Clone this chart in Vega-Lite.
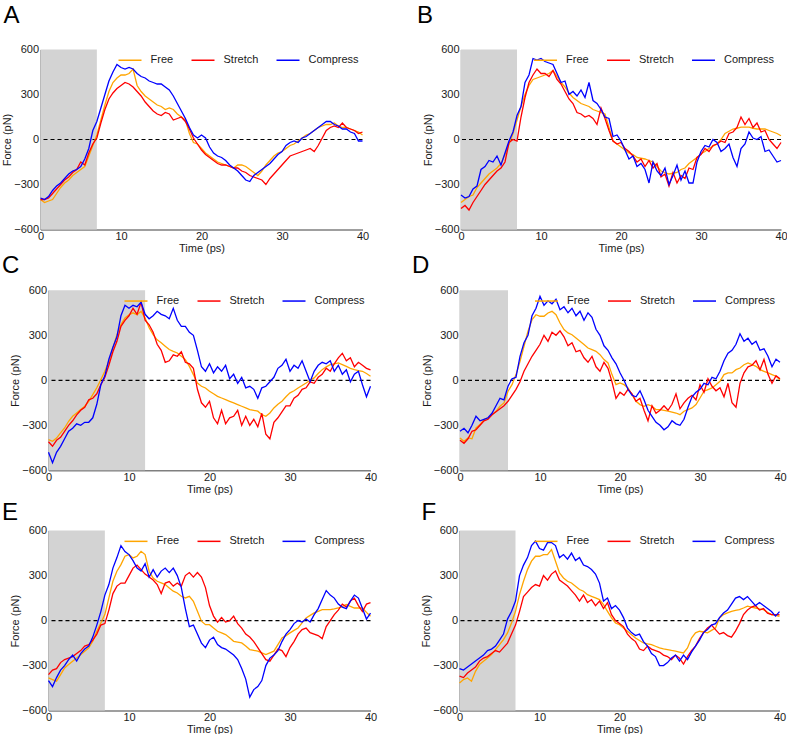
{
"$schema": "https://vega.github.io/schema/vega-lite/v6.json",
"autosize": {"type": "pad"},
"padding": {"left": 0, "top": 3.5, "right": 0, "bottom": 0},
"datasets": {
"shade": [
{"p":"A","start":0,"end":7},{"p":"B","start":0,"end":7},{"p":"C","start":0,"end":12},
{"p":"D","start":0,"end":6},{"p":"E","start":0,"end":7},{"p":"F","start":0,"end":7}
],
"lines": [
{"p":"A","t":0,"Free":-400,"Stretch":-400,"Compress":-390},
{"p":"A","t":0.5,"Free":-420,"Stretch":-400,"Compress":-400},
{"p":"A","t":1,"Free":-410,"Stretch":-390,"Compress":-380},
{"p":"A","t":1.5,"Free":-400,"Stretch":-360,"Compress":-340},
{"p":"A","t":2,"Free":-360,"Stretch":-330,"Compress":-310},
{"p":"A","t":2.5,"Free":-320,"Stretch":-300,"Compress":-290},
{"p":"A","t":3,"Free":-290,"Stretch":-270,"Compress":-260},
{"p":"A","t":3.5,"Free":-270,"Stretch":-250,"Compress":-230},
{"p":"A","t":4,"Free":-240,"Stretch":-220,"Compress":-210},
{"p":"A","t":4.5,"Free":-220,"Stretch":-200,"Compress":-200},
{"p":"A","t":5,"Free":-200,"Stretch":-150,"Compress":-180},
{"p":"A","t":5.5,"Free":-180,"Stretch":-170,"Compress":-130},
{"p":"A","t":6,"Free":-110,"Stretch":-90,"Compress":-60},
{"p":"A","t":6.5,"Free":-40,"Stretch":-30,"Compress":60},
{"p":"A","t":7,"Free":30,"Stretch":10,"Compress":120},
{"p":"A","t":7.5,"Free":130,"Stretch":110,"Compress":210},
{"p":"A","t":8,"Free":230,"Stretch":200,"Compress":300},
{"p":"A","t":8.5,"Free":320,"Stretch":270,"Compress":390},
{"p":"A","t":9,"Free":380,"Stretch":310,"Compress":450},
{"p":"A","t":9.5,"Free":410,"Stretch":340,"Compress":500},
{"p":"A","t":10,"Free":430,"Stretch":360,"Compress":480},
{"p":"A","t":10.5,"Free":430,"Stretch":380,"Compress":470},
{"p":"A","t":11,"Free":440,"Stretch":370,"Compress":480},
{"p":"A","t":11.5,"Free":470,"Stretch":350,"Compress":470},
{"p":"A","t":12,"Free":360,"Stretch":320,"Compress":440},
{"p":"A","t":12.5,"Free":320,"Stretch":290,"Compress":420},
{"p":"A","t":13,"Free":290,"Stretch":250,"Compress":410},
{"p":"A","t":13.5,"Free":270,"Stretch":220,"Compress":390},
{"p":"A","t":14,"Free":250,"Stretch":190,"Compress":380},
{"p":"A","t":14.5,"Free":230,"Stretch":170,"Compress":370},
{"p":"A","t":15,"Free":220,"Stretch":160,"Compress":370},
{"p":"A","t":15.5,"Free":200,"Stretch":180,"Compress":350},
{"p":"A","t":16,"Free":210,"Stretch":170,"Compress":330},
{"p":"A","t":16.5,"Free":200,"Stretch":130,"Compress":290},
{"p":"A","t":17,"Free":170,"Stretch":140,"Compress":240},
{"p":"A","t":17.5,"Free":150,"Stretch":150,"Compress":190},
{"p":"A","t":18,"Free":130,"Stretch":120,"Compress":140},
{"p":"A","t":18.5,"Free":40,"Stretch":70,"Compress":80},
{"p":"A","t":19,"Free":-20,"Stretch":10,"Compress":30},
{"p":"A","t":19.5,"Free":-30,"Stretch":-30,"Compress":10},
{"p":"A","t":20,"Free":-60,"Stretch":-70,"Compress":30},
{"p":"A","t":20.5,"Free":-90,"Stretch":-100,"Compress":10},
{"p":"A","t":21,"Free":-110,"Stretch":-120,"Compress":-50},
{"p":"A","t":21.5,"Free":-130,"Stretch":-140,"Compress":-90},
{"p":"A","t":22,"Free":-150,"Stretch":-160,"Compress":-110},
{"p":"A","t":22.5,"Free":-160,"Stretch":-170,"Compress":-120},
{"p":"A","t":23,"Free":-170,"Stretch":-170,"Compress":-140},
{"p":"A","t":23.5,"Free":-180,"Stretch":-180,"Compress":-170},
{"p":"A","t":24,"Free":-190,"Stretch":-190,"Compress":-190},
{"p":"A","t":24.5,"Free":-170,"Stretch":-190,"Compress":-210},
{"p":"A","t":25,"Free":-170,"Stretch":-210,"Compress":-240},
{"p":"A","t":25.5,"Free":-180,"Stretch":-220,"Compress":-270},
{"p":"A","t":26,"Free":-200,"Stretch":-240,"Compress":-280},
{"p":"A","t":26.5,"Free":-220,"Stretch":-250,"Compress":-240},
{"p":"A","t":27,"Free":-240,"Stretch":-260,"Compress":-220},
{"p":"A","t":27.5,"Free":-210,"Stretch":-270,"Compress":-200},
{"p":"A","t":28,"Free":-170,"Stretch":-300,"Compress":-180},
{"p":"A","t":28.5,"Free":-140,"Stretch":-260,"Compress":-160},
{"p":"A","t":29,"Free":-110,"Stretch":-230,"Compress":-130},
{"p":"A","t":29.5,"Free":-90,"Stretch":-200,"Compress":-100},
{"p":"A","t":30,"Free":-80,"Stretch":-170,"Compress":-80},
{"p":"A","t":30.5,"Free":-60,"Stretch":-140,"Compress":-40},
{"p":"A","t":31,"Free":-40,"Stretch":-110,"Compress":-20},
{"p":"A","t":31.5,"Free":-30,"Stretch":-100,"Compress":-10},
{"p":"A","t":32,"Free":-10,"Stretch":-90,"Compress":-20},
{"p":"A","t":32.5,"Free":10,"Stretch":-80,"Compress":10},
{"p":"A","t":33,"Free":30,"Stretch":-70,"Compress":20},
{"p":"A","t":33.5,"Free":40,"Stretch":-60,"Compress":40},
{"p":"A","t":34,"Free":60,"Stretch":-80,"Compress":60},
{"p":"A","t":34.5,"Free":80,"Stretch":-40,"Compress":80},
{"p":"A","t":35,"Free":90,"Stretch":10,"Compress":100},
{"p":"A","t":35.5,"Free":100,"Stretch":60,"Compress":120},
{"p":"A","t":36,"Free":100,"Stretch":80,"Compress":120},
{"p":"A","t":36.5,"Free":110,"Stretch":90,"Compress":100},
{"p":"A","t":37,"Free":90,"Stretch":80,"Compress":90},
{"p":"A","t":37.5,"Free":80,"Stretch":110,"Compress":70},
{"p":"A","t":38,"Free":80,"Stretch":80,"Compress":70},
{"p":"A","t":38.5,"Free":70,"Stretch":70,"Compress":50},
{"p":"A","t":39,"Free":60,"Stretch":60,"Compress":40},
{"p":"A","t":39.5,"Free":50,"Stretch":40,"Compress":-10},
{"p":"A","t":40,"Free":30,"Stretch":50,"Compress":-10},
{"p":"B","t":0,"Free":-420,"Stretch":-460,"Compress":-370},
{"p":"B","t":0.5,"Free":-400,"Stretch":-440,"Compress":-390},
{"p":"B","t":1,"Free":-380,"Stretch":-470,"Compress":-380},
{"p":"B","t":1.5,"Free":-370,"Stretch":-420,"Compress":-330},
{"p":"B","t":2,"Free":-320,"Stretch":-380,"Compress":-310},
{"p":"B","t":2.5,"Free":-290,"Stretch":-340,"Compress":-200},
{"p":"B","t":3,"Free":-260,"Stretch":-300,"Compress":-180},
{"p":"B","t":3.5,"Free":-230,"Stretch":-270,"Compress":-140},
{"p":"B","t":4,"Free":-210,"Stretch":-240,"Compress":-150},
{"p":"B","t":4.5,"Free":-190,"Stretch":-210,"Compress":-110},
{"p":"B","t":5,"Free":-160,"Stretch":-190,"Compress":-170},
{"p":"B","t":5.5,"Free":-100,"Stretch":-150,"Compress":-90},
{"p":"B","t":6,"Free":-30,"Stretch":-20,"Compress":-10},
{"p":"B","t":6.5,"Free":40,"Stretch":0,"Compress":50},
{"p":"B","t":7,"Free":130,"Stretch":-10,"Compress":160},
{"p":"B","t":7.5,"Free":220,"Stretch":150,"Compress":220},
{"p":"B","t":8,"Free":300,"Stretch":280,"Compress":380},
{"p":"B","t":8.5,"Free":360,"Stretch":380,"Compress":430},
{"p":"B","t":9,"Free":400,"Stretch":430,"Compress":540},
{"p":"B","t":9.5,"Free":410,"Stretch":470,"Compress":530},
{"p":"B","t":10,"Free":420,"Stretch":440,"Compress":540},
{"p":"B","t":10.5,"Free":430,"Stretch":440,"Compress":520},
{"p":"B","t":11,"Free":440,"Stretch":420,"Compress":510},
{"p":"B","t":11.5,"Free":460,"Stretch":460,"Compress":500},
{"p":"B","t":12,"Free":420,"Stretch":400,"Compress":440},
{"p":"B","t":12.5,"Free":380,"Stretch":370,"Compress":380},
{"p":"B","t":13,"Free":350,"Stretch":320,"Compress":390},
{"p":"B","t":13.5,"Free":310,"Stretch":270,"Compress":300},
{"p":"B","t":14,"Free":280,"Stretch":240,"Compress":320},
{"p":"B","t":14.5,"Free":260,"Stretch":180,"Compress":290},
{"p":"B","t":15,"Free":240,"Stretch":170,"Compress":330},
{"p":"B","t":15.5,"Free":230,"Stretch":150,"Compress":280},
{"p":"B","t":16,"Free":220,"Stretch":160,"Compress":380},
{"p":"B","t":16.5,"Free":200,"Stretch":140,"Compress":260},
{"p":"B","t":17,"Free":190,"Stretch":100,"Compress":240},
{"p":"B","t":17.5,"Free":180,"Stretch":210,"Compress":200},
{"p":"B","t":18,"Free":170,"Stretch":140,"Compress":150},
{"p":"B","t":18.5,"Free":80,"Stretch":60,"Compress":140},
{"p":"B","t":19,"Free":-10,"Stretch":-10,"Compress":20},
{"p":"B","t":19.5,"Free":-30,"Stretch":-30,"Compress":30},
{"p":"B","t":20,"Free":-50,"Stretch":-20,"Compress":-10},
{"p":"B","t":20.5,"Free":-70,"Stretch":-60,"Compress":-70},
{"p":"B","t":21,"Free":-90,"Stretch":-80,"Compress":-130},
{"p":"B","t":21.5,"Free":-100,"Stretch":-110,"Compress":-110},
{"p":"B","t":22,"Free":-120,"Stretch":-150,"Compress":-180},
{"p":"B","t":22.5,"Free":-125,"Stretch":-130,"Compress":-160},
{"p":"B","t":23,"Free":-130,"Stretch":-180,"Compress":-200},
{"p":"B","t":23.5,"Free":-140,"Stretch":-140,"Compress":-290},
{"p":"B","t":24,"Free":-150,"Stretch":-190,"Compress":-150},
{"p":"B","t":24.5,"Free":-180,"Stretch":-160,"Compress":-210},
{"p":"B","t":25,"Free":-210,"Stretch":-250,"Compress":-240},
{"p":"B","t":25.5,"Free":-220,"Stretch":-230,"Compress":-190},
{"p":"B","t":26,"Free":-230,"Stretch":-310,"Compress":-300},
{"p":"B","t":26.5,"Free":-225,"Stretch":-220,"Compress":-240},
{"p":"B","t":27,"Free":-220,"Stretch":-290,"Compress":-170},
{"p":"B","t":27.5,"Free":-200,"Stretch":-240,"Compress":-270},
{"p":"B","t":28,"Free":-190,"Stretch":-260,"Compress":-210},
{"p":"B","t":28.5,"Free":-160,"Stretch":-190,"Compress":-290},
{"p":"B","t":29,"Free":-140,"Stretch":-200,"Compress":-290},
{"p":"B","t":29.5,"Free":-120,"Stretch":-120,"Compress":-150},
{"p":"B","t":30,"Free":-95,"Stretch":-100,"Compress":-80},
{"p":"B","t":30.5,"Free":-80,"Stretch":-60,"Compress":-40},
{"p":"B","t":31,"Free":-60,"Stretch":-80,"Compress":-50},
{"p":"B","t":31.5,"Free":-45,"Stretch":-40,"Compress":0},
{"p":"B","t":32,"Free":-30,"Stretch":-30,"Compress":-20},
{"p":"B","t":32.5,"Free":0,"Stretch":-10,"Compress":-80},
{"p":"B","t":33,"Free":40,"Stretch":-20,"Compress":-60},
{"p":"B","t":33.5,"Free":55,"Stretch":40,"Compress":-30},
{"p":"B","t":34,"Free":70,"Stretch":50,"Compress":-120},
{"p":"B","t":34.5,"Free":75,"Stretch":80,"Compress":-180},
{"p":"B","t":35,"Free":82,"Stretch":150,"Compress":-60},
{"p":"B","t":35.5,"Free":82,"Stretch":100,"Compress":-30},
{"p":"B","t":36,"Free":82,"Stretch":140,"Compress":50},
{"p":"B","t":36.5,"Free":75,"Stretch":80,"Compress":10},
{"p":"B","t":37,"Free":70,"Stretch":110,"Compress":0},
{"p":"B","t":37.5,"Free":70,"Stretch":50,"Compress":20},
{"p":"B","t":38,"Free":70,"Stretch":60,"Compress":-80},
{"p":"B","t":38.5,"Free":60,"Stretch":0,"Compress":-70},
{"p":"B","t":39,"Free":50,"Stretch":-30,"Compress":-110},
{"p":"B","t":39.5,"Free":40,"Stretch":-60,"Compress":-150},
{"p":"B","t":40,"Free":25,"Stretch":-20,"Compress":-140},
{"p":"C","t":0,"Free":-395,"Stretch":-410,"Compress":-480},
{"p":"C","t":0.5,"Free":-407,"Stretch":-440,"Compress":-550},
{"p":"C","t":1,"Free":-385,"Stretch":-400,"Compress":-480},
{"p":"C","t":1.5,"Free":-351,"Stretch":-380,"Compress":-440},
{"p":"C","t":2,"Free":-318,"Stretch":-340,"Compress":-390},
{"p":"C","t":2.5,"Free":-273,"Stretch":-300,"Compress":-340},
{"p":"C","t":3,"Free":-240,"Stretch":-270,"Compress":-320},
{"p":"C","t":3.5,"Free":-218,"Stretch":-230,"Compress":-290},
{"p":"C","t":4,"Free":-195,"Stretch":-200,"Compress":-300},
{"p":"C","t":4.5,"Free":-173,"Stretch":-180,"Compress":-280},
{"p":"C","t":5,"Free":-140,"Stretch":-130,"Compress":-280},
{"p":"C","t":5.5,"Free":-95,"Stretch":-120,"Compress":-250},
{"p":"C","t":6,"Free":-50,"Stretch":-90,"Compress":-160},
{"p":"C","t":6.5,"Free":4,"Stretch":-30,"Compress":-30},
{"p":"C","t":7,"Free":60,"Stretch":20,"Compress":30},
{"p":"C","t":7.5,"Free":127,"Stretch":100,"Compress":140},
{"p":"C","t":8,"Free":215,"Stretch":190,"Compress":220},
{"p":"C","t":8.5,"Free":304,"Stretch":260,"Compress":290},
{"p":"C","t":9,"Free":371,"Stretch":360,"Compress":430},
{"p":"C","t":9.5,"Free":415,"Stretch":400,"Compress":500},
{"p":"C","t":10,"Free":437,"Stretch":430,"Compress":480},
{"p":"C","t":10.5,"Free":450,"Stretch":480,"Compress":500},
{"p":"C","t":11,"Free":437,"Stretch":440,"Compress":490},
{"p":"C","t":11.5,"Free":460,"Stretch":520,"Compress":520},
{"p":"C","t":12,"Free":415,"Stretch":400,"Compress":440},
{"p":"C","t":12.5,"Free":350,"Stretch":370,"Compress":410},
{"p":"C","t":13,"Free":304,"Stretch":320,"Compress":430},
{"p":"C","t":13.5,"Free":270,"Stretch":240,"Compress":460},
{"p":"C","t":14,"Free":250,"Stretch":200,"Compress":440},
{"p":"C","t":14.5,"Free":227,"Stretch":120,"Compress":430},
{"p":"C","t":15,"Free":205,"Stretch":130,"Compress":410},
{"p":"C","t":15.5,"Free":193,"Stretch":170,"Compress":480},
{"p":"C","t":16,"Free":182,"Stretch":160,"Compress":400},
{"p":"C","t":16.5,"Free":160,"Stretch":190,"Compress":360},
{"p":"C","t":17,"Free":138,"Stretch":120,"Compress":360},
{"p":"C","t":17.5,"Free":93,"Stretch":110,"Compress":320},
{"p":"C","t":18,"Free":38,"Stretch":80,"Compress":300},
{"p":"C","t":18.5,"Free":-18,"Stretch":-60,"Compress":200},
{"p":"C","t":19,"Free":-40,"Stretch":-150,"Compress":90},
{"p":"C","t":19.5,"Free":-51,"Stretch":-180,"Compress":60},
{"p":"C","t":20,"Free":-73,"Stretch":-140,"Compress":110},
{"p":"C","t":20.5,"Free":-90,"Stretch":-250,"Compress":50},
{"p":"C","t":21,"Free":-107,"Stretch":-290,"Compress":90},
{"p":"C","t":21.5,"Free":-118,"Stretch":-200,"Compress":60},
{"p":"C","t":22,"Free":-129,"Stretch":-290,"Compress":100},
{"p":"C","t":22.5,"Free":-140,"Stretch":-250,"Compress":10},
{"p":"C","t":23,"Free":-151,"Stretch":-240,"Compress":40},
{"p":"C","t":23.5,"Free":-162,"Stretch":-200,"Compress":-20},
{"p":"C","t":24,"Free":-173,"Stretch":-300,"Compress":20},
{"p":"C","t":24.5,"Free":-184,"Stretch":-240,"Compress":-50},
{"p":"C","t":25,"Free":-195,"Stretch":-300,"Compress":-40},
{"p":"C","t":25.5,"Free":-200,"Stretch":-260,"Compress":-60},
{"p":"C","t":26,"Free":-206,"Stretch":-310,"Compress":-120},
{"p":"C","t":26.5,"Free":-229,"Stretch":-220,"Compress":-50},
{"p":"C","t":27,"Free":-240,"Stretch":-360,"Compress":-40},
{"p":"C","t":27.5,"Free":-218,"Stretch":-390,"Compress":-10},
{"p":"C","t":28,"Free":-184,"Stretch":-280,"Compress":20},
{"p":"C","t":28.5,"Free":-160,"Stretch":-250,"Compress":80},
{"p":"C","t":29,"Free":-140,"Stretch":-210,"Compress":100},
{"p":"C","t":29.5,"Free":-110,"Stretch":-170,"Compress":140},
{"p":"C","t":30,"Free":-84,"Stretch":-170,"Compress":60},
{"p":"C","t":30.5,"Free":-70,"Stretch":-120,"Compress":100},
{"p":"C","t":31,"Free":-51,"Stretch":-100,"Compress":80},
{"p":"C","t":31.5,"Free":-35,"Stretch":-60,"Compress":130},
{"p":"C","t":32,"Free":-18,"Stretch":-50,"Compress":60},
{"p":"C","t":32.5,"Free":0,"Stretch":-10,"Compress":-10},
{"p":"C","t":33,"Free":16,"Stretch":-20,"Compress":60},
{"p":"C","t":33.5,"Free":45,"Stretch":20,"Compress":100},
{"p":"C","t":34,"Free":71,"Stretch":40,"Compress":120},
{"p":"C","t":34.5,"Free":90,"Stretch":80,"Compress":110},
{"p":"C","t":35,"Free":104,"Stretch":60,"Compress":130},
{"p":"C","t":35.5,"Free":110,"Stretch":110,"Compress":60},
{"p":"C","t":36,"Free":116,"Stretch":150,"Compress":100},
{"p":"C","t":36.5,"Free":105,"Stretch":180,"Compress":40},
{"p":"C","t":37,"Free":93,"Stretch":130,"Compress":70},
{"p":"C","t":37.5,"Free":80,"Stretch":150,"Compress":-10},
{"p":"C","t":38,"Free":71,"Stretch":90,"Compress":40},
{"p":"C","t":38.5,"Free":65,"Stretch":120,"Compress":60},
{"p":"C","t":39,"Free":60,"Stretch":100,"Compress":-30},
{"p":"C","t":39.5,"Free":45,"Stretch":80,"Compress":-110},
{"p":"C","t":40,"Free":27,"Stretch":70,"Compress":-40},
{"p":"D","t":0,"Free":-384,"Stretch":-400,"Compress":-340},
{"p":"D","t":0.5,"Free":-407,"Stretch":-420,"Compress":-320},
{"p":"D","t":1,"Free":-384,"Stretch":-390,"Compress":-350},
{"p":"D","t":1.5,"Free":-390,"Stretch":-340,"Compress":-300},
{"p":"D","t":2,"Free":-318,"Stretch":-330,"Compress":-240},
{"p":"D","t":2.5,"Free":-295,"Stretch":-300,"Compress":-270},
{"p":"D","t":3,"Free":-262,"Stretch":-270,"Compress":-260},
{"p":"D","t":3.5,"Free":-251,"Stretch":-260,"Compress":-250},
{"p":"D","t":4,"Free":-229,"Stretch":-230,"Compress":-220},
{"p":"D","t":4.5,"Free":-207,"Stretch":-210,"Compress":-170},
{"p":"D","t":5,"Free":-173,"Stretch":-190,"Compress":-120},
{"p":"D","t":5.5,"Free":-151,"Stretch":-170,"Compress":-130},
{"p":"D","t":6,"Free":-73,"Stretch":-140,"Compress":-40},
{"p":"D","t":6.5,"Free":-29,"Stretch":-100,"Compress":10},
{"p":"D","t":7,"Free":38,"Stretch":-60,"Compress":20},
{"p":"D","t":7.5,"Free":127,"Stretch":-10,"Compress":160},
{"p":"D","t":8,"Free":227,"Stretch":60,"Compress":250},
{"p":"D","t":8.5,"Free":327,"Stretch":110,"Compress":300},
{"p":"D","t":9,"Free":404,"Stretch":160,"Compress":430},
{"p":"D","t":9.5,"Free":437,"Stretch":200,"Compress":480},
{"p":"D","t":10,"Free":427,"Stretch":240,"Compress":560},
{"p":"D","t":10.5,"Free":427,"Stretch":300,"Compress":500},
{"p":"D","t":11,"Free":449,"Stretch":260,"Compress":530},
{"p":"D","t":11.5,"Free":460,"Stretch":320,"Compress":510},
{"p":"D","t":12,"Free":437,"Stretch":300,"Compress":540},
{"p":"D","t":12.5,"Free":382,"Stretch":330,"Compress":470},
{"p":"D","t":13,"Free":338,"Stretch":290,"Compress":490},
{"p":"D","t":13.5,"Free":316,"Stretch":230,"Compress":450},
{"p":"D","t":14,"Free":304,"Stretch":250,"Compress":480},
{"p":"D","t":14.5,"Free":282,"Stretch":190,"Compress":430},
{"p":"D","t":15,"Free":260,"Stretch":200,"Compress":460},
{"p":"D","t":15.5,"Free":238,"Stretch":150,"Compress":400},
{"p":"D","t":16,"Free":215,"Stretch":120,"Compress":450},
{"p":"D","t":16.5,"Free":204,"Stretch":160,"Compress":420},
{"p":"D","t":17,"Free":193,"Stretch":90,"Compress":340},
{"p":"D","t":17.5,"Free":171,"Stretch":60,"Compress":300},
{"p":"D","t":18,"Free":138,"Stretch":120,"Compress":230},
{"p":"D","t":18.5,"Free":116,"Stretch":80,"Compress":200},
{"p":"D","t":19,"Free":38,"Stretch":-10,"Compress":150},
{"p":"D","t":19.5,"Free":-29,"Stretch":-120,"Compress":110},
{"p":"D","t":20,"Free":-18,"Stretch":-80,"Compress":50},
{"p":"D","t":20.5,"Free":-29,"Stretch":-100,"Compress":0},
{"p":"D","t":21,"Free":-51,"Stretch":-60,"Compress":-60},
{"p":"D","t":21.5,"Free":-95,"Stretch":-90,"Compress":-100},
{"p":"D","t":22,"Free":-140,"Stretch":-140,"Compress":-110},
{"p":"D","t":22.5,"Free":-162,"Stretch":-120,"Compress":-70},
{"p":"D","t":23,"Free":-173,"Stretch":-200,"Compress":-130},
{"p":"D","t":23.5,"Free":-162,"Stretch":-270,"Compress":-200},
{"p":"D","t":24,"Free":-173,"Stretch":-170,"Compress":-240},
{"p":"D","t":24.5,"Free":-195,"Stretch":-220,"Compress":-280},
{"p":"D","t":25,"Free":-195,"Stretch":-200,"Compress":-300},
{"p":"D","t":25.5,"Free":-200,"Stretch":-170,"Compress":-330},
{"p":"D","t":26,"Free":-206,"Stretch":-200,"Compress":-310},
{"p":"D","t":26.5,"Free":-212,"Stretch":-160,"Compress":-270},
{"p":"D","t":27,"Free":-218,"Stretch":-90,"Compress":-290},
{"p":"D","t":27.5,"Free":-229,"Stretch":-190,"Compress":-300},
{"p":"D","t":28,"Free":-206,"Stretch":-150,"Compress":-260},
{"p":"D","t":28.5,"Free":-195,"Stretch":-120,"Compress":-180},
{"p":"D","t":29,"Free":-184,"Stretch":-100,"Compress":-110},
{"p":"D","t":29.5,"Free":-162,"Stretch":-130,"Compress":-80},
{"p":"D","t":30,"Free":-118,"Stretch":-30,"Compress":-60},
{"p":"D","t":30.5,"Free":-73,"Stretch":-80,"Compress":-20},
{"p":"D","t":31,"Free":-62,"Stretch":10,"Compress":-30},
{"p":"D","t":31.5,"Free":-51,"Stretch":-40,"Compress":20},
{"p":"D","t":32,"Free":-29,"Stretch":-70,"Compress":10},
{"p":"D","t":32.5,"Free":-7,"Stretch":-50,"Compress":60},
{"p":"D","t":33,"Free":38,"Stretch":-110,"Compress":130},
{"p":"D","t":33.5,"Free":49,"Stretch":-20,"Compress":180},
{"p":"D","t":34,"Free":49,"Stretch":-150,"Compress":200},
{"p":"D","t":34.5,"Free":71,"Stretch":-180,"Compress":240},
{"p":"D","t":35,"Free":82,"Stretch":-20,"Compress":310},
{"p":"D","t":35.5,"Free":104,"Stretch":50,"Compress":260},
{"p":"D","t":36,"Free":116,"Stretch":90,"Compress":280},
{"p":"D","t":36.5,"Free":104,"Stretch":100,"Compress":240},
{"p":"D","t":37,"Free":93,"Stretch":130,"Compress":260},
{"p":"D","t":37.5,"Free":71,"Stretch":70,"Compress":200},
{"p":"D","t":38,"Free":60,"Stretch":140,"Compress":210},
{"p":"D","t":38.5,"Free":49,"Stretch":40,"Compress":160},
{"p":"D","t":39,"Free":38,"Stretch":-20,"Compress":90},
{"p":"D","t":39.5,"Free":27,"Stretch":30,"Compress":140},
{"p":"D","t":40,"Free":4,"Stretch":10,"Compress":120},
{"p":"E","t":0,"Free":-382,"Stretch":-360,"Compress":-400},
{"p":"E","t":0.5,"Free":-393,"Stretch":-330,"Compress":-440},
{"p":"E","t":1,"Free":-404,"Stretch":-320,"Compress":-380},
{"p":"E","t":1.5,"Free":-360,"Stretch":-280,"Compress":-330},
{"p":"E","t":2,"Free":-316,"Stretch":-260,"Compress":-300},
{"p":"E","t":2.5,"Free":-293,"Stretch":-250,"Compress":-260},
{"p":"E","t":3,"Free":-271,"Stretch":-240,"Compress":-230},
{"p":"E","t":3.5,"Free":-249,"Stretch":-220,"Compress":-270},
{"p":"E","t":4,"Free":-227,"Stretch":-200,"Compress":-220},
{"p":"E","t":4.5,"Free":-204,"Stretch":-170,"Compress":-190},
{"p":"E","t":5,"Free":-182,"Stretch":-160,"Compress":-170},
{"p":"E","t":5.5,"Free":-138,"Stretch":-130,"Compress":-110},
{"p":"E","t":6,"Free":-71,"Stretch":-90,"Compress":-30},
{"p":"E","t":6.5,"Free":-16,"Stretch":-30,"Compress":60},
{"p":"E","t":7,"Free":40,"Stretch":-20,"Compress":170},
{"p":"E","t":7.5,"Free":151,"Stretch":70,"Compress":240},
{"p":"E","t":8,"Free":262,"Stretch":180,"Compress":350},
{"p":"E","t":8.5,"Free":329,"Stretch":230,"Compress":420},
{"p":"E","t":9,"Free":373,"Stretch":250,"Compress":500},
{"p":"E","t":9.5,"Free":429,"Stretch":250,"Compress":460},
{"p":"E","t":10,"Free":440,"Stretch":300,"Compress":440},
{"p":"E","t":10.5,"Free":418,"Stretch":350,"Compress":400},
{"p":"E","t":11,"Free":429,"Stretch":370,"Compress":350},
{"p":"E","t":11.5,"Free":462,"Stretch":340,"Compress":330},
{"p":"E","t":12,"Free":440,"Stretch":310,"Compress":380},
{"p":"E","t":12.5,"Free":329,"Stretch":290,"Compress":290},
{"p":"E","t":13,"Free":284,"Stretch":270,"Compress":340},
{"p":"E","t":13.5,"Free":262,"Stretch":240,"Compress":290},
{"p":"E","t":14,"Free":251,"Stretch":180,"Compress":330},
{"p":"E","t":14.5,"Free":240,"Stretch":250,"Compress":350},
{"p":"E","t":15,"Free":218,"Stretch":260,"Compress":320},
{"p":"E","t":15.5,"Free":196,"Stretch":230,"Compress":350},
{"p":"E","t":16,"Free":184,"Stretch":250,"Compress":300},
{"p":"E","t":16.5,"Free":162,"Stretch":230,"Compress":220},
{"p":"E","t":17,"Free":151,"Stretch":300,"Compress":80},
{"p":"E","t":17.5,"Free":162,"Stretch":320,"Compress":-40},
{"p":"E","t":18,"Free":129,"Stretch":290,"Compress":-30},
{"p":"E","t":18.5,"Free":62,"Stretch":320,"Compress":-90},
{"p":"E","t":19,"Free":-4,"Stretch":290,"Compress":-150},
{"p":"E","t":19.5,"Free":-27,"Stretch":220,"Compress":-180},
{"p":"E","t":20,"Free":-27,"Stretch":100,"Compress":-130},
{"p":"E","t":20.5,"Free":-50,"Stretch":30,"Compress":-110},
{"p":"E","t":21,"Free":-71,"Stretch":-10,"Compress":-160},
{"p":"E","t":21.5,"Free":-82,"Stretch":20,"Compress":-180},
{"p":"E","t":22,"Free":-93,"Stretch":-10,"Compress":-190},
{"p":"E","t":22.5,"Free":-115,"Stretch":0,"Compress":-210},
{"p":"E","t":23,"Free":-138,"Stretch":30,"Compress":-230},
{"p":"E","t":23.5,"Free":-143,"Stretch":-20,"Compress":-260},
{"p":"E","t":24,"Free":-149,"Stretch":-50,"Compress":-320},
{"p":"E","t":24.5,"Free":-170,"Stretch":-90,"Compress":-390},
{"p":"E","t":25,"Free":-193,"Stretch":-110,"Compress":-510},
{"p":"E","t":25.5,"Free":-198,"Stretch":-140,"Compress":-460},
{"p":"E","t":26,"Free":-204,"Stretch":-180,"Compress":-440},
{"p":"E","t":26.5,"Free":-215,"Stretch":-220,"Compress":-400},
{"p":"E","t":27,"Free":-227,"Stretch":-260,"Compress":-300},
{"p":"E","t":27.5,"Free":-215,"Stretch":-270,"Compress":-250},
{"p":"E","t":28,"Free":-204,"Stretch":-230,"Compress":-230},
{"p":"E","t":28.5,"Free":-160,"Stretch":-190,"Compress":-200},
{"p":"E","t":29,"Free":-116,"Stretch":-200,"Compress":-140},
{"p":"E","t":29.5,"Free":-100,"Stretch":-240,"Compress":-90},
{"p":"E","t":30,"Free":-82,"Stretch":-180,"Compress":-60},
{"p":"E","t":30.5,"Free":-65,"Stretch":-140,"Compress":-20},
{"p":"E","t":31,"Free":-49,"Stretch":-90,"Compress":0},
{"p":"E","t":31.5,"Free":-15,"Stretch":-60,"Compress":-10},
{"p":"E","t":32,"Free":18,"Stretch":-50,"Compress":10},
{"p":"E","t":32.5,"Free":35,"Stretch":-80,"Compress":-10},
{"p":"E","t":33,"Free":51,"Stretch":-90,"Compress":40},
{"p":"E","t":33.5,"Free":62,"Stretch":-100,"Compress":80},
{"p":"E","t":34,"Free":73,"Stretch":-120,"Compress":140},
{"p":"E","t":34.5,"Free":73,"Stretch":-40,"Compress":200},
{"p":"E","t":35,"Free":73,"Stretch":0,"Compress":170},
{"p":"E","t":35.5,"Free":78,"Stretch":40,"Compress":150},
{"p":"E","t":36,"Free":84,"Stretch":70,"Compress":110},
{"p":"E","t":36.5,"Free":95,"Stretch":110,"Compress":90},
{"p":"E","t":37,"Free":107,"Stretch":90,"Compress":80},
{"p":"E","t":37.5,"Free":95,"Stretch":130,"Compress":130},
{"p":"E","t":38,"Free":84,"Stretch":150,"Compress":170},
{"p":"E","t":38.5,"Free":84,"Stretch":100,"Compress":150},
{"p":"E","t":39,"Free":84,"Stretch":60,"Compress":80},
{"p":"E","t":39.5,"Free":55,"Stretch":110,"Compress":10},
{"p":"E","t":40,"Free":29,"Stretch":120,"Compress":50},
{"p":"F","t":0,"Free":-416,"Stretch":-370,"Compress":-320},
{"p":"F","t":0.5,"Free":-393,"Stretch":-380,"Compress":-330},
{"p":"F","t":1,"Free":-382,"Stretch":-350,"Compress":-310},
{"p":"F","t":1.5,"Free":-404,"Stretch":-330,"Compress":-290},
{"p":"F","t":2,"Free":-338,"Stretch":-310,"Compress":-270},
{"p":"F","t":2.5,"Free":-293,"Stretch":-270,"Compress":-250},
{"p":"F","t":3,"Free":-271,"Stretch":-250,"Compress":-230},
{"p":"F","t":3.5,"Free":-249,"Stretch":-240,"Compress":-200},
{"p":"F","t":4,"Free":-227,"Stretch":-220,"Compress":-190},
{"p":"F","t":4.5,"Free":-193,"Stretch":-200,"Compress":-170},
{"p":"F","t":5,"Free":-160,"Stretch":-210,"Compress":-130},
{"p":"F","t":5.5,"Free":-127,"Stretch":-180,"Compress":-90},
{"p":"F","t":6,"Free":-82,"Stretch":-150,"Compress":10},
{"p":"F","t":6.5,"Free":-16,"Stretch":-90,"Compress":60},
{"p":"F","t":7,"Free":62,"Stretch":-30,"Compress":130},
{"p":"F","t":7.5,"Free":173,"Stretch":60,"Compress":300},
{"p":"F","t":8,"Free":262,"Stretch":160,"Compress":370},
{"p":"F","t":8.5,"Free":340,"Stretch":190,"Compress":420},
{"p":"F","t":9,"Free":396,"Stretch":220,"Compress":500},
{"p":"F","t":9.5,"Free":429,"Stretch":240,"Compress":530},
{"p":"F","t":10,"Free":429,"Stretch":230,"Compress":480},
{"p":"F","t":10.5,"Free":440,"Stretch":300,"Compress":470},
{"p":"F","t":11,"Free":440,"Stretch":270,"Compress":520},
{"p":"F","t":11.5,"Free":473,"Stretch":310,"Compress":520},
{"p":"F","t":12,"Free":396,"Stretch":330,"Compress":500},
{"p":"F","t":12.5,"Free":318,"Stretch":270,"Compress":420},
{"p":"F","t":13,"Free":284,"Stretch":250,"Compress":440},
{"p":"F","t":13.5,"Free":262,"Stretch":230,"Compress":410},
{"p":"F","t":14,"Free":251,"Stretch":200,"Compress":450},
{"p":"F","t":14.5,"Free":229,"Stretch":170,"Compress":400},
{"p":"F","t":15,"Free":207,"Stretch":130,"Compress":420},
{"p":"F","t":15.5,"Free":196,"Stretch":170,"Compress":370},
{"p":"F","t":16,"Free":173,"Stretch":120,"Compress":360},
{"p":"F","t":16.5,"Free":162,"Stretch":140,"Compress":340},
{"p":"F","t":17,"Free":151,"Stretch":100,"Compress":310},
{"p":"F","t":17.5,"Free":140,"Stretch":130,"Compress":250},
{"p":"F","t":18,"Free":107,"Stretch":80,"Compress":130},
{"p":"F","t":18.5,"Free":62,"Stretch":120,"Compress":150},
{"p":"F","t":19,"Free":18,"Stretch":40,"Compress":80},
{"p":"F","t":19.5,"Free":-16,"Stretch":0,"Compress":100},
{"p":"F","t":20,"Free":-27,"Stretch":-20,"Compress":70},
{"p":"F","t":20.5,"Free":-50,"Stretch":-40,"Compress":20},
{"p":"F","t":21,"Free":-71,"Stretch":-90,"Compress":-50},
{"p":"F","t":21.5,"Free":-94,"Stretch":-120,"Compress":-80},
{"p":"F","t":22,"Free":-116,"Stretch":-140,"Compress":-100},
{"p":"F","t":22.5,"Free":-133,"Stretch":-190,"Compress":-90},
{"p":"F","t":23,"Free":-149,"Stretch":-200,"Compress":-140},
{"p":"F","t":23.5,"Free":-155,"Stretch":-170,"Compress":-170},
{"p":"F","t":24,"Free":-160,"Stretch":-190,"Compress":-220},
{"p":"F","t":24.5,"Free":-171,"Stretch":-200,"Compress":-240},
{"p":"F","t":25,"Free":-182,"Stretch":-210,"Compress":-300},
{"p":"F","t":25.5,"Free":-188,"Stretch":-230,"Compress":-300},
{"p":"F","t":26,"Free":-193,"Stretch":-240,"Compress":-280},
{"p":"F","t":26.5,"Free":-199,"Stretch":-260,"Compress":-250},
{"p":"F","t":27,"Free":-204,"Stretch":-230,"Compress":-230},
{"p":"F","t":27.5,"Free":-210,"Stretch":-250,"Compress":-270},
{"p":"F","t":28,"Free":-216,"Stretch":-290,"Compress":-230},
{"p":"F","t":28.5,"Free":-182,"Stretch":-240,"Compress":-260},
{"p":"F","t":29,"Free":-116,"Stretch":-200,"Compress":-210},
{"p":"F","t":29.5,"Free":-82,"Stretch":-170,"Compress":-170},
{"p":"F","t":30,"Free":-71,"Stretch":-120,"Compress":-130},
{"p":"F","t":30.5,"Free":-76,"Stretch":-80,"Compress":-80},
{"p":"F","t":31,"Free":-82,"Stretch":-50,"Compress":-60},
{"p":"F","t":31.5,"Free":-65,"Stretch":-30,"Compress":-30},
{"p":"F","t":32,"Free":-49,"Stretch":-60,"Compress":-20},
{"p":"F","t":32.5,"Free":18,"Stretch":-90,"Compress":20},
{"p":"F","t":33,"Free":40,"Stretch":-80,"Compress":50},
{"p":"F","t":33.5,"Free":51,"Stretch":-100,"Compress":70},
{"p":"F","t":34,"Free":62,"Stretch":-110,"Compress":110},
{"p":"F","t":34.5,"Free":68,"Stretch":-70,"Compress":150},
{"p":"F","t":35,"Free":73,"Stretch":-20,"Compress":160},
{"p":"F","t":35.5,"Free":84,"Stretch":40,"Compress":140},
{"p":"F","t":36,"Free":96,"Stretch":70,"Compress":160},
{"p":"F","t":36.5,"Free":90,"Stretch":90,"Compress":130},
{"p":"F","t":37,"Free":84,"Stretch":100,"Compress":100},
{"p":"F","t":37.5,"Free":78,"Stretch":70,"Compress":120},
{"p":"F","t":38,"Free":73,"Stretch":80,"Compress":100},
{"p":"F","t":38.5,"Free":56,"Stretch":50,"Compress":80},
{"p":"F","t":39,"Free":40,"Stretch":40,"Compress":60},
{"p":"F","t":39.5,"Free":35,"Stretch":40,"Compress":30},
{"p":"F","t":40,"Free":29,"Stretch":40,"Compress":60}
]
},
"resolve": {"scale": {"color": "independent"}, "legend": {"color": "independent"}},
"columns": 1,
"spacing": 6.1,
"concat": [
{
"resolve": {"scale": {"color": "independent"}, "legend": {"color": "independent"}},
"columns": 1,
"spacing": -0.2,
"concat": [
{
"resolve": {"scale": {"color": "independent"}, "legend": {"color": "independent"}},
"spacing": 48,
"hconcat": [
{
"resolve": {"scale": {"color": "independent"}, "legend": {"color": "independent"}},
"spacing": 0.5,
"hconcat": [
{"width": 1, "height": 1, "data": {"values": []}, "mark": {"type": "point", "opacity": 0}},
{"width": 322, "height": 180, "title": {"text": "A", "offset": 16, "dx": -37},
"layer": [
{"data": {"name": "shade"}, "transform": [{"filter": "datum.p == 'A'"}], "mark": {"type": "rect", "color": "#d3d3d3"},
"encoding": {"x": {"field": "start", "type": "quantitative", "scale": {"domain": [0, 40], "nice": false}, "axis": {"title": "Time (ps)", "values": [0, 10, 20, 30, 40]}}, "x2": {"field": "end"},
"y": {"datum": -600, "type": "quantitative", "scale": {"domain": [-600, 600], "nice": false}, "axis": {"title": "Force (pN)", "values": [-600, -300, 0, 300, 600]}}, "y2": {"datum": 600}}},
{"data": {"name": "shade"}, "transform": [{"filter": "datum.p == 'A'"}], "mark": {"type": "rule", "strokeDash": [4, 3], "color": "black", "strokeWidth": 1.2}, "encoding": {"y": {"datum": 0, "type": "quantitative"}}},
{"data": {"name": "lines"}, "transform": [{"filter": "datum.p == 'A'"}, {"fold": ["Free", "Stretch", "Compress"], "as": ["series", "force"]}], "mark": {"type": "line", "strokeWidth": 1.3},
"encoding": {"x": {"field": "t", "type": "quantitative", "axis": {"title": "Time (ps)", "values": [0, 10, 20, 30, 40]}}, "y": {"field": "force", "type": "quantitative", "axis": {"title": "Force (pN)", "values": [-600, -300, 0, 300, 600]}},
"color": {"field": "series", "type": "nominal", "scale": {"domain": ["Free", "Stretch", "Compress"], "range": ["#FFA500", "#FF0000", "#0000FF"]}, "legend": {"title": null, "orient": "none", "legendX": 77, "legendY": -2}}}}
]}
]
},
{"width": 320, "height": 180, "title": {"text": "B", "offset": 16, "dx": -44},
"layer": [
{"data": {"name": "shade"}, "transform": [{"filter": "datum.p == 'B'"}], "mark": {"type": "rect", "color": "#d3d3d3"},
"encoding": {"x": {"field": "start", "type": "quantitative", "scale": {"domain": [0, 40], "nice": false}, "axis": {"title": "Time (ps)", "values": [0, 10, 20, 30, 40]}}, "x2": {"field": "end"},
"y": {"datum": -600, "type": "quantitative", "scale": {"domain": [-600, 600], "nice": false}, "axis": {"title": "Force (pN)", "values": [-600, -300, 0, 300, 600]}}, "y2": {"datum": 600}}},
{"data": {"name": "shade"}, "transform": [{"filter": "datum.p == 'B'"}], "mark": {"type": "rule", "strokeDash": [4, 3], "color": "black", "strokeWidth": 1.2}, "encoding": {"y": {"datum": 0, "type": "quantitative"}}},
{"data": {"name": "lines"}, "transform": [{"filter": "datum.p == 'B'"}, {"fold": ["Free", "Stretch", "Compress"], "as": ["series", "force"]}], "mark": {"type": "line", "strokeWidth": 1.3},
"encoding": {"x": {"field": "t", "type": "quantitative", "axis": {"title": "Time (ps)", "values": [0, 10, 20, 30, 40]}}, "y": {"field": "force", "type": "quantitative", "axis": {"title": "Force (pN)", "values": [-600, -300, 0, 300, 600]}},
"color": {"field": "series", "type": "nominal", "scale": {"domain": ["Free", "Stretch", "Compress"], "range": ["#FFA500", "#FF0000", "#0000FF"]}, "legend": {"title": null, "orient": "none", "legendX": 72, "legendY": -2}}}}
]}
]
},
{
"resolve": {"scale": {"color": "independent"}, "legend": {"color": "independent"}},
"spacing": 35,
"hconcat": [
{
"resolve": {"scale": {"color": "independent"}, "legend": {"color": "independent"}},
"spacing": 0.5,
"hconcat": [
{"width": 1, "height": 1, "data": {"values": []}, "mark": {"type": "point", "opacity": 0}},
{"width": 322, "height": 180, "title": {"text": "C", "offset": 6.1, "dx": -46.5},
"layer": [
{"data": {"name": "shade"}, "transform": [{"filter": "datum.p == 'C'"}], "mark": {"type": "rect", "color": "#d3d3d3"},
"encoding": {"x": {"field": "start", "type": "quantitative", "scale": {"domain": [0, 40], "nice": false}, "axis": {"title": "Time (ps)", "values": [0, 10, 20, 30, 40]}}, "x2": {"field": "end"},
"y": {"datum": -600, "type": "quantitative", "scale": {"domain": [-600, 600], "nice": false}, "axis": {"title": "Force (pN)", "values": [-600, -300, 0, 300, 600]}}, "y2": {"datum": 600}}},
{"data": {"name": "shade"}, "transform": [{"filter": "datum.p == 'C'"}], "mark": {"type": "rule", "strokeDash": [4, 3], "color": "black", "strokeWidth": 1.2}, "encoding": {"y": {"datum": 0, "type": "quantitative"}}},
{"data": {"name": "lines"}, "transform": [{"filter": "datum.p == 'C'"}, {"fold": ["Free", "Stretch", "Compress"], "as": ["series", "force"]}], "mark": {"type": "line", "strokeWidth": 1.3},
"encoding": {"x": {"field": "t", "type": "quantitative", "axis": {"title": "Time (ps)", "values": [0, 10, 20, 30, 40]}}, "y": {"field": "force", "type": "quantitative", "axis": {"title": "Force (pN)", "values": [-600, -300, 0, 300, 600]}},
"color": {"field": "series", "type": "nominal", "scale": {"domain": ["Free", "Stretch", "Compress"], "range": ["#FFA500", "#FF0000", "#0000FF"]}, "legend": {"title": null, "orient": "none", "legendX": 75, "legendY": -2}}}}
]}
]
},
{"width": 320, "height": 180, "title": {"text": "D", "offset": 6.1, "dx": -48},
"layer": [
{"data": {"name": "shade"}, "transform": [{"filter": "datum.p == 'D'"}], "mark": {"type": "rect", "color": "#d3d3d3"},
"encoding": {"x": {"field": "start", "type": "quantitative", "scale": {"domain": [0, 40], "nice": false}, "axis": {"title": "Time (ps)", "values": [0, 10, 20, 30, 40]}}, "x2": {"field": "end"},
"y": {"datum": -600, "type": "quantitative", "scale": {"domain": [-600, 600], "nice": false}, "axis": {"title": "Force (pN)", "values": [-600, -300, 0, 300, 600]}}, "y2": {"datum": 600}}},
{"data": {"name": "shade"}, "transform": [{"filter": "datum.p == 'D'"}], "mark": {"type": "rule", "strokeDash": [4, 3], "color": "black", "strokeWidth": 1.2}, "encoding": {"y": {"datum": 0, "type": "quantitative"}}},
{"data": {"name": "lines"}, "transform": [{"filter": "datum.p == 'D'"}, {"fold": ["Free", "Stretch", "Compress"], "as": ["series", "force"]}], "mark": {"type": "line", "strokeWidth": 1.3},
"encoding": {"x": {"field": "t", "type": "quantitative", "axis": {"title": "Time (ps)", "values": [0, 10, 20, 30, 40]}}, "y": {"field": "force", "type": "quantitative", "axis": {"title": "Force (pN)", "values": [-600, -300, 0, 300, 600]}},
"color": {"field": "series", "type": "nominal", "scale": {"domain": ["Free", "Stretch", "Compress"], "range": ["#FFA500", "#FF0000", "#0000FF"]}, "legend": {"title": null, "orient": "none", "legendX": 74, "legendY": -2}}}}
]}
]
}
]
},
{
"resolve": {"scale": {"color": "independent"}, "legend": {"color": "independent"}},
"spacing": 43.5,
"hconcat": [
{
"resolve": {"scale": {"color": "independent"}, "legend": {"color": "independent"}},
"spacing": 0.5,
"hconcat": [
{"width": 1, "height": 1, "data": {"values": []}, "mark": {"type": "point", "opacity": 0}},
{"width": 322, "height": 180, "title": {"text": "E", "offset": -0.5, "dx": -46.5},
"layer": [
{"data": {"name": "shade"}, "transform": [{"filter": "datum.p == 'E'"}], "mark": {"type": "rect", "color": "#d3d3d3"},
"encoding": {"x": {"field": "start", "type": "quantitative", "scale": {"domain": [0, 40], "nice": false}, "axis": {"title": "Time (ps)", "values": [0, 10, 20, 30, 40]}}, "x2": {"field": "end"},
"y": {"datum": -600, "type": "quantitative", "scale": {"domain": [-600, 600], "nice": false}, "axis": {"title": "Force (pN)", "values": [-600, -300, 0, 300, 600]}}, "y2": {"datum": 600}}},
{"data": {"name": "shade"}, "transform": [{"filter": "datum.p == 'E'"}], "mark": {"type": "rule", "strokeDash": [4, 3], "color": "black", "strokeWidth": 1.2}, "encoding": {"y": {"datum": 0, "type": "quantitative"}}},
{"data": {"name": "lines"}, "transform": [{"filter": "datum.p == 'E'"}, {"fold": ["Free", "Stretch", "Compress"], "as": ["series", "force"]}], "mark": {"type": "line", "strokeWidth": 1.3},
"encoding": {"x": {"field": "t", "type": "quantitative", "axis": {"title": "Time (ps)", "values": [0, 10, 20, 30, 40]}}, "y": {"field": "force", "type": "quantitative", "axis": {"title": "Force (pN)", "values": [-600, -300, 0, 300, 600]}},
"color": {"field": "series", "type": "nominal", "scale": {"domain": ["Free", "Stretch", "Compress"], "range": ["#FFA500", "#FF0000", "#0000FF"]}, "legend": {"title": null, "orient": "none", "legendX": 75, "legendY": -2}}}}
]}
]
},
{"width": 320, "height": 180, "title": {"text": "F", "offset": -0.5, "dx": -38},
"layer": [
{"data": {"name": "shade"}, "transform": [{"filter": "datum.p == 'F'"}], "mark": {"type": "rect", "color": "#d3d3d3"},
"encoding": {"x": {"field": "start", "type": "quantitative", "scale": {"domain": [0, 40], "nice": false}, "axis": {"title": "Time (ps)", "values": [0, 10, 20, 30, 40]}}, "x2": {"field": "end"},
"y": {"datum": -600, "type": "quantitative", "scale": {"domain": [-600, 600], "nice": false}, "axis": {"title": "Force (pN)", "values": [-600, -300, 0, 300, 600]}}, "y2": {"datum": 600}}},
{"data": {"name": "shade"}, "transform": [{"filter": "datum.p == 'F'"}], "mark": {"type": "rule", "strokeDash": [4, 3], "color": "black", "strokeWidth": 1.2}, "encoding": {"y": {"datum": 0, "type": "quantitative"}}},
{"data": {"name": "lines"}, "transform": [{"filter": "datum.p == 'F'"}, {"fold": ["Free", "Stretch", "Compress"], "as": ["series", "force"]}], "mark": {"type": "line", "strokeWidth": 1.3},
"encoding": {"x": {"field": "t", "type": "quantitative", "axis": {"title": "Time (ps)", "values": [0, 10, 20, 30, 40]}}, "y": {"field": "force", "type": "quantitative", "axis": {"title": "Force (pN)", "values": [-600, -300, 0, 300, 600]}},
"color": {"field": "series", "type": "nominal", "scale": {"domain": ["Free", "Stretch", "Compress"], "range": ["#FFA500", "#FF0000", "#0000FF"]}, "legend": {"title": null, "orient": "none", "legendX": 74, "legendY": -2}}}}
]}
]
}
],
"config": {
"view": {"stroke": null},
"font": "Liberation Sans",
"axis": {"grid": false, "ticks": false, "labelFontSize": 11, "titleFontSize": 11, "titleFontWeight": "normal", "labelColor": "#1a1a1a", "titleColor": "#1a1a1a", "domainColor": "#7f7f7f", "domainWidth": 1.5, "labelFlush": false, "labelOverlap": false, "labelFont": "Liberation Sans", "titleFont": "Liberation Sans"},
"axisX": {"labelPadding": 1, "titlePadding": 1},
"axisY": {"labelPadding": 2, "titlePadding": 1},
"legend": {"direction": "horizontal", "symbolType": "stroke", "symbolSize": 529, "symbolStrokeWidth": 1.5, "labelFontSize": 11, "labelOffset": 8, "columnPadding": 15, "padding": 0, "labelFont": "Liberation Sans", "labelColor": "#1a1a1a"},
"title": {"fontSize": 24, "fontWeight": "normal", "anchor": "start", "frame": "group", "baseline": "alphabetic", "color": "black", "font": "Liberation Sans"}
}
}
